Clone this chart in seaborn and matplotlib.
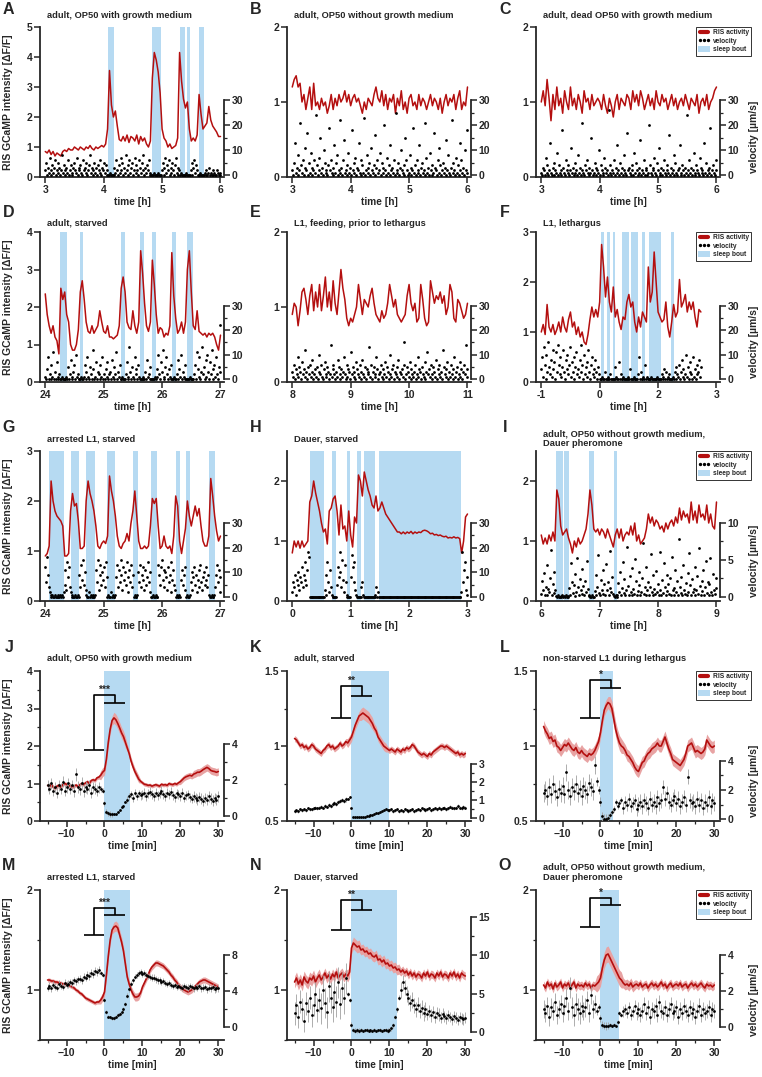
import numpy as np
import matplotlib
matplotlib.use("Agg")
import matplotlib.pyplot as plt
from matplotlib.lines import Line2D
from matplotlib.patches import Patch
from matplotlib.ticker import FixedLocator
import seaborn as sns

RED = "#b40f0f"
BAND = "#e8a3a3"
BLUE = "#b6daf2"

# ---------------- hour-scale panels (A-I) ----------------
# RIS activity and velocity, each sampled evenly over [t0, t1]
A_ris = [0.85, 0.8, 0.9, 0.75, 0.85, 0.7, 0.8, 0.75, 0.7, 0.85, 0.9, 0.85, 0.95, 0.9, 0.9, 1.0,
         0.95, 0.9, 1.0, 0.95, 0.9, 1.0, 0.95, 1.05, 0.95, 0.9, 1.0, 0.95, 1.0, 1.05, 1.0,
         1.1, 1.6, 3.55, 2.4, 2.0, 2.2, 1.7, 1.25, 1.2,
         1.35, 1.2, 1.4, 1.15, 1.35, 1.3, 1.2, 1.4, 1.1, 1.35, 1.2, 1.3, 1.1, 1.0,
         1.2, 3.3, 4.15, 3.9, 3.5, 2.8, 1.6, 1.3,
         1.2, 1.0, 1.1, 0.95, 1.0, 1.05, 1.3,
         4.15, 3.2, 2.6, 2.3, 2.5, 1.6, 1.2, 1.3, 1.2, 1.4, 2.75, 2.1, 1.6, 1.7, 1.8, 2.35,
         1.9, 1.7, 1.6, 1.5, 1.35, 1.35]
A_vel = [2, 5, 0, 3, 1, 7, 2, 0, 4, 1, 3, 6, 0, 2, 1, 5, 3, 0, 2, 8, 1, 4, 0, 2, 3, 1, 6, 0, 2, 4,
         1, 0, 3, 5, 2, 1, 7, 0, 3, 2, 4, 1, 0, 6, 2, 3, 1, 5, 0, 2, 4, 8, 1, 3, 0, 2, 5, 1, 3, 0,
         4, 2, 6, 1, 0, 3, 2, 5, 1, 4, 0, 2,
         0, 0, 1, 0, 0, 0, 0,
         3, 1, 6, 2, 0, 4, 1, 7, 2, 5, 0, 3, 1, 8, 2, 4, 0, 6, 1, 3, 5, 0, 2, 7, 1, 4, 2, 0, 6, 3,
         1, 5, 2, 8, 0, 3, 1, 4, 2, 6, 0, 1,
         0, 0, 0, 1, 0, 0, 0, 0, 1, 0, 0, 0,
         2, 5, 0, 3, 7, 1, 4, 2, 6, 0, 3, 1, 5, 2, 0, 4, 7, 1, 3, 0, 2,
         0, 1, 0, 0, 0, 0, 0, 1, 0, 0, 0, 0,
         2, 5, 0, 3, 6, 1, 4, 2, 0,
         0, 0, 1, 0, 0, 0, 0,
         1, 0, 2, 0, 1, 3, 0, 1, 0, 2, 0, 1, 0, 0, 2, 1, 0, 1, 0]
A_bouts = [(4.08, 4.17), (4.82, 4.99), (5.31, 5.40), (5.42, 5.48), (5.63, 5.72)]

B_ris = [1.2, 1.3, 1.35, 1.2, 1.25, 1.0, 1.1, 0.9, 1.05, 1.2, 0.9, 1.25, 0.95, 1.0, 0.9, 1.05, 0.95,
         1.0, 0.85, 0.95, 1.1, 0.9, 1.05, 0.95, 1.1, 1.0, 1.05, 1.15, 1.0, 1.1, 0.95, 1.05, 1.1, 1.0,
         1.05, 0.95, 0.85, 1.0, 0.9, 1.05, 1.0, 0.95, 1.1, 1.2, 1.05, 1.0, 1.15, 0.95, 1.1, 0.9, 1.05,
         1.0, 1.1, 0.85, 1.05, 0.95, 1.15, 0.9, 1.0, 0.85, 1.05, 1.1, 0.95, 1.0, 0.9, 1.1, 0.95, 1.05,
         1.0, 0.9, 1.0, 1.1, 0.95, 1.05, 1.0, 0.9, 1.05, 0.85, 1.0, 1.1, 0.95, 1.05, 1.0, 1.1, 0.9,
         1.05, 1.15, 0.9, 1.0, 0.95, 1.2]
B_vel = [2, 0, 5, 13, 1, 3, 8, 0, 2, 21, 4, 1, 6, 0, 3, 11, 2, 17, 0, 5,
         1, 9, 3, 0, 2, 6, 1, 24, 4, 0, 7, 2, 15, 1, 3, 0, 10, 5, 2, 1,
         0, 4, 19, 2, 6, 1, 0, 3, 12, 1, 5, 8, 0, 2, 1, 22, 3, 0, 6, 14,
         1, 2, 0, 4, 9, 1, 3, 0, 18, 2, 5, 1, 7, 0, 3, 2, 13, 1, 0, 6,
         4, 1, 23, 0, 2, 8, 3, 1, 5, 0, 11, 2, 1, 4, 16, 0, 3, 6, 1, 2,
         9, 0, 5, 1, 3, 20, 2, 0, 7, 1, 4, 12, 0, 2, 3, 1, 6, 0, 25, 2,
         1, 5, 0, 3, 10, 2, 1, 4, 0, 15, 6, 2, 0, 1, 8, 3, 0, 2, 19, 1,
         4, 0, 6, 2, 1, 12, 0, 3, 5, 1, 2, 0, 21, 7, 1, 3, 0, 9, 2, 4,
         0, 1, 17, 3, 2, 0, 6, 1, 11, 4, 0, 2, 5, 1, 3, 14, 0, 2, 8, 1,
         0, 3, 22, 1, 5, 2, 0, 7, 1, 4, 0, 13, 2, 6, 1, 3, 0, 10, 2, 18,
         1]

C_ris = [1.0, 1.15, 0.95, 1.3, 1.05, 0.75, 1.1, 0.9, 1.2, 0.95, 1.05, 0.85, 1.15, 1.0, 0.9, 1.2, 0.95,
         1.05, 0.9, 1.1, 1.0, 0.85, 1.15, 1.0, 1.05, 0.9, 1.1, 0.95, 1.0, 1.05, 1.0, 0.9, 1.1, 0.95,
         0.85, 1.05, 0.95, 0.8, 1.0, 1.1, 0.9, 1.05, 1.0, 0.95, 1.1, 1.05, 0.9, 1.15, 1.0, 1.1, 0.95,
         1.15, 1.05, 0.9, 1.0, 1.1, 0.95, 1.05, 0.9, 1.15, 1.0, 0.95, 1.1, 1.0, 1.05, 0.9, 1.0, 1.1,
         0.95, 1.05, 0.9, 1.0, 1.05, 0.95, 1.1, 1.0, 0.9, 1.05, 1.0, 0.95, 1.1, 0.85, 1.0, 1.05, 0.95,
         1.1, 0.9, 1.0, 1.05, 1.15, 1.2]
C_vel = [1, 0, 3, 2, 0, 7, 1, 4, 0, 2, 13, 1, 0, 3, 5, 0, 2, 1, 9, 0,
         4, 1, 2, 0, 18, 3, 1, 0, 6, 2, 1, 4, 0, 2, 11, 1, 3, 0, 1, 5,
         2, 0, 8, 1, 3, 0, 2, 21, 1, 0, 4, 2, 6, 1, 0, 3, 1, 15, 2, 0,
         1, 5, 3, 0, 2, 1, 10, 0, 4, 2, 1, 0, 7, 3, 1, 2, 0, 26, 1, 4,
         0, 2, 1, 6, 0, 3, 12, 1, 2, 0, 5, 1, 3, 0, 2, 8, 1, 0, 17, 2,
         3, 1, 0, 4, 2, 0, 9, 1, 5, 2, 0, 1, 3, 14, 0, 2, 1, 6, 0, 3,
         2, 0, 1, 20, 4, 1, 0, 3, 2, 7, 1, 0, 5, 2, 11, 0, 1, 3, 0, 2,
         6, 1, 0, 2, 4, 1, 16, 0, 3, 1, 2, 0, 8, 5, 1, 0, 2, 3, 12, 0,
         1, 4, 2, 0, 3, 1, 24, 0, 2, 6, 1, 3, 0, 2, 9, 1, 0, 4, 2, 1,
         0, 7, 3, 1, 2, 0, 13, 1, 5, 0, 2, 1, 3, 19, 0, 2, 4, 1, 0, 6,
         2]

D_ris = [2.35, 1.8, 1.5, 1.3, 1.5, 1.2, 1.1, 0.75, 2.5, 2.2, 2.4, 1.8, 1.6, 1.0, 0.85, 0.85, 1.0, 1.4,
         2.4, 2.7, 2.2, 1.6, 1.35, 1.3, 1.5, 1.3, 1.4, 1.5, 1.9, 1.6, 1.35, 1.3, 1.5, 1.2, 1.2, 1.15,
         1.2, 1.25, 1.5, 2.5, 2.8, 2.4, 1.6, 1.45, 1.4, 1.9, 1.5, 1.3, 1.6, 3.5, 2.9, 2.1, 1.5, 1.35,
         1.6, 3.25, 2.6, 1.8, 1.3, 1.45, 1.4, 1.2, 1.3, 1.25, 1.5, 3.45, 2.3, 1.7, 1.3, 1.4, 1.6, 1.3,
         1.6, 3.0, 3.5, 2.4, 1.5, 1.4, 1.9, 1.35, 1.3, 1.25, 1.3, 1.2, 1.3, 1.25, 1.3, 1.2, 1.0, 0.85, 1.25]
D_vel = [1, 0, 4, 9, 0, 2, 6, 0, 1, 11, 0, 3, 0, 7, 1, 0, 2,
         0, 0, 1, 0, 0, 0, 0, 1, 0,
         5, 0, 2, 8, 1, 0, 3, 6, 0, 10, 1, 2, 0,
         0, 0, 1, 0, 0,
         1, 6, 0, 3, 9, 1, 0, 5, 2, 0, 4, 12, 0, 1, 7, 0, 3, 2, 0, 6, 1, 9, 0, 2, 0, 4, 1, 7, 0, 2,
         3, 0, 8, 1, 0, 5, 2, 11, 0, 3, 1, 6, 0,
         0, 1, 0, 0, 0,
         2, 7, 0, 1, 13, 3, 0, 5, 1, 0, 9, 2, 4, 0, 6, 1,
         0, 0, 0, 1, 0, 0,
         3, 0, 8, 1, 2, 0, 5,
         0, 0, 0, 0, 1, 0,
         1, 4, 10, 2, 0, 7, 3, 12, 1, 0, 5, 9, 2, 0, 4, 1, 6, 0,
         0, 0, 1, 0, 0,
         2, 8, 0, 4, 1, 10, 0, 3, 1, 6, 0,
         0, 0, 0, 0, 1, 0, 0, 0, 0,
         2, 6, 0, 11, 4, 1, 9, 0, 3, 13, 2, 5, 0, 8, 1, 10, 3, 0, 7, 2, 12, 0, 4, 6, 1, 9, 2, 0, 5, 22, 3]
D_bouts = [(24.25, 24.38), (24.59, 24.65), (25.30, 25.37), (25.62, 25.69), (25.82, 25.89),
           (26.17, 26.23), (26.42, 26.53)]

E_ris = [0.9, 1.05, 1.0, 0.75, 0.95, 1.2, 1.25, 1.1, 0.9, 1.15, 1.3, 0.95, 1.2, 1.0, 1.3, 0.95, 1.15,
         1.4, 1.0, 1.2, 0.95, 1.35, 1.05, 0.9, 1.2, 1.5, 1.25, 1.1, 0.85, 0.75, 0.85, 0.8, 0.9, 1.0,
         1.3, 1.1, 0.9, 1.1, 1.05, 1.0, 1.15, 1.25, 1.05, 0.9, 0.85, 0.8, 0.95, 0.85, 0.9, 1.05, 1.3,
         1.15, 1.0, 1.1, 0.9, 0.85, 0.8, 0.85, 0.9, 1.15, 1.3, 1.05, 0.95, 1.05, 0.8, 0.85, 1.3, 1.1,
         0.85, 0.75, 0.8, 1.35, 1.2, 1.05, 1.15, 1.1, 1.2, 1.05, 1.15, 0.9, 1.0, 1.3, 1.2, 0.85, 0.8,
         1.1, 1.05, 0.95, 0.85, 0.9, 1.05]
E_vel = [3, 1, 6, 0, 4, 2, 9, 1, 5, 3, 0, 7, 2, 4, 1, 12, 3, 0, 5, 2,
         6, 1, 3, 8, 0, 2, 4, 1, 5, 0, 10, 3, 2, 6, 1, 0, 4, 7, 2, 1,
         5, 3, 0, 2, 14, 1, 4, 6, 2, 0, 3, 1, 8, 5, 2, 0, 4, 1, 3, 9,
         2, 0, 6, 1, 4, 3, 0, 11, 2, 5, 1, 3, 0, 7, 4, 2, 1, 6, 0, 3,
         8, 2, 1, 5, 0, 4, 3, 2, 13, 1, 6, 0, 3, 5, 2, 1, 9, 4, 0, 2,
         3, 6, 1, 0, 4, 2, 7, 1, 5, 3, 0, 2, 10, 1, 4, 6, 0, 3, 2, 5,
         1, 8, 0, 3, 2, 4, 1, 6, 15, 0, 2, 5, 3, 1, 7, 0, 4, 2, 1, 3,
         6, 0, 2, 9, 1, 4, 3, 0, 5, 2, 1, 7, 0, 3, 11, 2, 4, 1, 6, 0,
         2, 5, 3, 1, 8, 0, 4, 2, 6, 1, 3, 0, 12, 5, 2, 1, 4, 7, 0, 3,
         1, 6, 2, 0, 4, 9, 1, 3, 5, 0, 2, 7, 1, 4, 0, 3, 6, 2, 14, 1,
         4]

F_ris = [1.0, 1.15, 0.95, 1.55, 1.1, 1.0, 1.15, 0.95, 1.05, 1.2, 1.0, 1.3, 1.1, 1.0, 1.25, 1.4, 1.1,
         1.2, 0.95, 1.1, 0.9, 1.0, 0.8, 0.75, 0.95, 1.25, 1.5, 1.3, 1.45, 1.3, 1.6, 2.75, 2.3, 1.7,
         2.1, 1.6, 1.4, 1.9, 1.3, 1.45, 1.2, 1.05, 1.3, 1.25, 1.6, 1.75, 1.5, 1.6, 1.2, 1.0, 1.3, 1.1,
         1.4, 1.3, 1.2, 2.3, 1.6, 1.8, 2.6, 2.0, 1.4, 1.3, 1.2, 1.25, 1.6, 1.1, 0.9, 1.2, 1.55, 1.3,
         1.4, 2.05, 1.5, 1.6, 1.75, 1.4, 1.6, 1.45, 1.6, 1.3, 1.1, 1.45, 1.4]
F_vel = [4, 9, 1, 13, 6, 0, 10, 3, 15, 5, 2, 8, 1, 12, 4, 7, 0, 11, 3, 14, 6, 2, 9, 1, 5, 12, 3, 0,
         8, 4, 10, 2, 6, 13, 1, 7, 3, 0, 9, 5, 11, 2, 4, 1, 8, 14, 3, 6, 0, 10, 2, 5, 7, 1, 12, 3, 0,
         6, 9, 2, 4, 1, 8, 3, 0, 5, 2,
         0, 0, 0, 1, 0, 0, 3, 0, 0, 1, 0, 0, 2, 0, 0, 0, 0, 5, 0, 1, 0, 0, 7, 0, 2,
         0, 0, 1, 0, 0, 0, 0, 0, 1, 0, 4, 0, 0, 0, 1, 0, 0, 0, 0, 2, 9, 0, 3, 0, 0, 1, 0, 6, 0, 1, 0,
         0, 0, 0, 1, 0, 0, 0, 0, 0, 0, 1, 0, 0, 0, 0,
         2, 0, 1, 4, 0, 3, 0, 1, 0, 2, 0, 0, 0, 1, 0, 3, 5, 0, 2, 1, 6, 0, 3, 8, 1, 4, 0, 2, 10, 1,
         5, 0, 3, 7, 2, 0, 9, 1, 4, 0, 6, 2, 3, 8, 1, 5]
F_bouts = [(0.02, 0.07), (0.13, 0.17), (0.22, 0.26), (0.38, 0.50), (0.53, 0.65), (0.73, 0.78),
           (0.84, 1.05), (1.22, 1.27)]
F_xticklabels = ["-1", "0", "2", "3"]

G_ris = [0.9, 0.95, 1.1, 2.4, 2.0, 1.8, 1.7, 1.65, 1.6, 1.5, 0.9, 0.9, 0.95, 1.8, 2.15, 1.9, 1.95, 1.6,
         1.05, 1.05, 1.1, 2.0, 2.4, 2.15, 2.0, 1.8, 1.5, 1.1, 1.05, 1.15, 1.2, 1.15, 1.3, 2.5, 2.2,
         2.0, 1.7, 1.3, 1.1, 1.05, 1.15, 1.2, 1.35, 1.2, 1.55, 1.8, 2.2, 1.7, 1.2, 1.05, 1.05, 1.1,
         1.05, 1.1, 1.5, 2.05, 1.95, 2.05, 1.5, 1.05, 1.1, 1.3, 1.1, 1.05, 1.1, 0.95, 1.3, 2.1, 1.9,
         1.2, 0.95, 1.2, 1.45, 2.0, 1.7, 1.5, 1.7, 1.9, 1.7, 1.85, 1.5, 1.2, 1.1, 1.1, 1.3, 2.45, 2.1,
         1.7, 1.4, 1.2, 1.3]
G_vel = [12, 6, 16, 9, 4,
         2, 1, 0, 1, 0, 0, 1, 0, 0, 1, 0, 0, 1, 0, 1, 0, 2,
         5, 11, 3, 14, 8, 12, 4,
         2, 0, 1, 0, 0, 1, 0, 0, 1, 0,
         9, 4, 13, 7, 15, 5, 10, 3,
         1, 0, 0, 2, 0, 1, 0, 0, 1, 0, 1,
         11, 6, 15, 3, 9, 13, 5, 10, 7, 12, 4, 14, 8,
         0, 1, 0, 0, 2, 0, 1, 0, 0, 1,
         8, 13, 4, 11, 6, 15, 9, 3, 12, 7, 10, 5, 14, 2, 8, 11, 6, 13, 4, 9,
         0, 1, 0, 0, 1,
         10, 6, 13, 4, 9, 12, 7, 3, 11, 5, 8, 14, 6, 10, 2,
         0, 0, 1, 0, 0, 1, 0, 0,
         13, 9, 5, 12, 15, 7, 11, 4, 10, 8, 3, 12, 6, 9, 2, 14, 7, 11, 5, 3,
         0, 1, 0, 0, 1, 0,
         7, 11, 5, 9, 3, 12,
         0, 1, 0, 0, 1,
         6, 10, 3, 8, 12, 5, 9, 2, 7, 11, 4, 13, 6, 3, 8, 10, 5, 12, 7, 4, 9,
         1, 0, 0, 1, 0, 0, 1,
         4, 9, 13, 6, 11, 2, 8]
G_bouts = [(24.07, 24.32), (24.44, 24.57), (24.70, 24.86), (25.06, 25.20), (25.51, 25.58),
           (25.81, 25.92), (26.24, 26.31), (26.41, 26.47), (26.81, 26.90)]

H_ris = [0.8, 1.0, 0.9, 1.0, 0.88, 1.0, 0.9, 0.95, 1.0, 1.65, 1.75, 2.0, 1.8, 1.65, 1.5, 1.3, 1.15, 1.2,
         0.95, 1.5, 1.55, 1.7, 1.75, 1.5, 1.1, 1.6, 1.2, 1.25, 1.0, 1.5, 1.1, 0.9, 1.4, 1.3, 2.1, 2.0,
         1.75, 2.15, 2.0, 1.85, 1.75, 1.6, 1.55, 1.75, 1.5, 1.55, 1.65, 1.55, 1.45, 1.4, 1.35, 1.3,
         1.25, 1.2, 1.15, 1.15, 1.12, 1.15, 1.12, 1.15, 1.13, 1.16, 1.12, 1.15, 1.13, 1.15, 1.14,
         1.17, 1.18, 1.17, 1.15, 1.12, 1.13, 1.1, 1.11, 1.09, 1.1, 1.08, 1.07, 1.08, 1.05, 1.06, 1.05,
         1.07, 1.05, 1.06, 1.04, 0.8, 1.0, 1.4, 1.45]
H_vel = [2, 6, 4, 9, 1, 7, 5, 10, 3, 8, 6, 12, 4, 9, 7, 14, 5, 11, 18, 16,
         0, 0, 0, 0, 0, 0, 0, 0, 0, 0, 0, 0, 0, 0, 0, 0, 0,
         3, 9, 1, 14, 6, 2, 11, 4, 1,
         0, 0, 0, 0, 0,
         5, 12, 8, 18, 10, 4, 15, 7, 2, 13, 6, 1,
         0, 0, 0, 0,
         8, 17, 12, 6, 14, 3, 1,
         0, 0, 0, 0, 0,
         4, 6, 1,
         0, 0, 0, 0, 0, 0, 0, 0, 0, 0, 0, 0, 0,
         1, 4, 0, 2, 0,
         0, 0, 0, 0, 0, 0, 0, 0, 0, 0, 0, 0, 0, 0, 0, 0, 0, 0, 0, 0, 0, 0, 0, 0, 0, 0, 0, 0, 0, 0, 0,
         0, 0, 0, 0, 0, 0, 0, 0, 0, 0, 0, 0, 0, 0, 0, 0, 0, 0, 0, 0, 0, 0, 0, 0, 0, 0, 0, 0, 0, 0, 0,
         0, 0, 0, 0, 0, 0, 0, 0, 0, 0, 0, 0, 0, 0, 0, 0, 0, 0, 0, 0, 0, 0, 0, 0, 0, 0, 0, 0, 0, 0, 0,
         2, 18, 6, 11, 14, 3, 8, 1]
H_bouts = [(0.30, 0.55), (0.68, 0.75), (0.94, 0.99), (1.11, 1.18), (1.23, 1.42), (1.49, 2.89)]

I_ris = [1.1, 0.95, 1.05, 0.95, 1.1, 1.0, 1.15, 1.0, 1.85, 1.7, 1.25, 1.1, 1.15, 1.2, 1.05, 0.95, 0.8,
         1.0, 0.9, 1.05, 0.95, 1.0, 1.1, 1.2, 1.45, 1.85, 1.6, 1.2, 1.15, 1.2, 1.1, 1.2, 1.15, 1.05,
         1.2, 1.1, 1.0, 0.9, 1.1, 1.2, 1.05, 1.2, 1.0, 1.1, 1.15, 1.1, 1.25, 1.1, 1.3, 1.0, 1.1, 0.95,
         1.0, 1.05, 1.2, 1.45, 1.3, 1.4, 1.25, 1.35, 1.3, 1.2, 1.25, 1.15, 1.3, 1.2, 1.3, 1.35, 1.25,
         1.4, 1.3, 1.55, 1.35, 1.5, 1.4, 1.45, 1.3, 1.65, 1.35, 1.5, 1.3, 1.6, 1.4, 1.45, 1.35, 1.6,
         1.3, 1.45, 1.25, 1.2, 1.65]
I_vel = [0.4, 2.1, 0.9, 3.2, 0.3, 1.4, 0.2, 4.3, 1.1, 0.6, 2.6, 6.4, 0.2, 1.8, 0.5, 3.4, 1.0,
         0.1, 0, 0.2, 0, 0, 0.1, 0, 0.3, 0, 0.1, 0, 0.2, 0, 0, 0.1,
         1.2, 0.3, 4.6, 2.0, 0.5, 1.6, 0.1, 3.1, 0.7, 5.3, 1.4, 0.2, 2.4, 0.9, 0.4, 3.8, 1.5, 0.3,
         2.2, 0.6, 4.9, 1.1, 0.2,
         0.1, 0, 0, 0.2, 0, 0,
         0.8, 2.9, 0.3, 1.3, 5.6, 0.5, 0.2, 2.3, 1.0, 3.6, 0.4, 1.7, 0.2, 4.4, 0.9, 2.0, 0.3, 6.2,
         1.2, 0.6, 2.7, 0.4,
         0.1, 0, 0.2, 0,
         0.3, 1.9, 0.6, 3.3, 0.2, 1.2, 4.7, 0.5, 2.4, 0.2, 0.9, 6.8, 1.5, 0.3, 2.8, 0.6, 0.2, 3.9,
         1.1, 0.4, 5.1, 2.2, 0.3, 0.8, 1.6, 3.4, 0.2, 0.6, 2.5, 7.3, 0.4, 1.3, 0.2, 4.1, 0.9, 2.0,
         0.3, 1.4, 5.8, 0.6, 0.2, 2.9, 1.1, 0.4, 3.5, 0.7, 1.8, 0.2, 6.1, 1.0, 0.3, 2.3, 0.5, 4.6,
         1.4, 0.2, 0.8, 3.0, 1.7, 0.4, 2.6, 0.2, 5.4, 0.9, 1.2, 0.3, 3.7, 0.6, 2.1, 0.2, 7.8, 1.3,
         0.5, 2.7, 0.3, 4.3, 1.0, 0.4, 1.9, 0.2, 3.2, 0.7, 5.9, 1.6, 0.3, 2.4, 0.6, 1.1, 4.0, 0.2,
         0.9, 2.8, 0.4, 6.6, 1.5, 0.3, 2.2, 0.8, 3.6, 0.2, 1.3, 4.9, 0.5, 2.0, 0.3, 1.7, 5.2, 0.6,
         0.2, 3.1, 1.0, 0.4, 2.5, 1.2]
I_bouts = [(6.26, 6.38), (6.39, 6.47), (6.82, 6.90), (7.24, 7.29)]

# ---------------- sleep-bout-aligned averages (J-O), -15 .. 30 min every 0.5 min ----------------
J_ris = [0.95, 0.92, 0.97, 0.9, 0.88, 0.93, 0.95, 0.9, 0.97, 1.0, 0.98, 0.93, 0.95, 0.9, 0.93, 0.96,
         0.92, 0.97, 1.0, 0.97, 1.02, 1.05, 1.0, 1.08, 1.1, 1.08, 1.15, 1.17, 1.22, 1.3,
         1.35, 1.65, 2.1, 2.45, 2.68, 2.75, 2.7, 2.6, 2.48, 2.35, 2.25, 2.1, 1.95, 1.8, 1.6, 1.45,
         1.32, 1.22, 1.12, 1.06,
         1.02, 0.98, 0.97, 0.95, 0.96, 0.93, 0.95, 0.97, 0.95, 0.93, 0.98, 0.96, 0.97, 0.95, 1.0,
         0.98, 0.97, 1.0, 0.98, 1.02, 1.05, 1.1, 1.15, 1.18, 1.2, 1.22, 1.2, 1.25, 1.27, 1.3, 1.3,
         1.33, 1.37, 1.4, 1.43, 1.4, 1.35, 1.33, 1.32, 1.3, 1.32]
J_ris_sem = [0.06, 0.05, 0.05, 0.05, 0.12, 0.15, 0.1, 0.05, 0.05, 0.05, 0.08, 0.1, 0.1]
J_vel = [1.7, 1.5, 1.8, 1.4, 1.6, 1.3, 1.7, 1.5, 1.9, 1.4, 1.6, 1.8, 1.5, 1.7, 1.4, 2.3, 1.6, 1.5,
         1.8, 1.4, 1.6, 1.5, 1.7, 1.3, 1.6, 1.5, 1.4, 1.6, 1.5, 1.4,
         0.7, 0.25, 0.15, 0.12, 0.1, 0.1, 0.12, 0.2, 0.35, 0.5,
         0.55, 0.8, 0.9, 1.1, 1.2, 1.0, 1.3, 1.1, 1.25, 1.15,
         1.2, 1.3, 1.1, 1.25, 1.35, 1.2, 1.1, 1.3, 1.15, 1.25, 1.4, 1.2, 1.1, 1.3, 1.2, 1.35, 1.15,
         1.05, 1.25, 1.2, 1.1, 1.3, 1.0, 1.15, 1.2, 1.05, 0.95, 1.1, 1.0, 0.9, 1.05, 0.95, 0.85, 1.0,
         0.9, 1.1, 0.95, 0.85, 1.0, 0.9, 1.1]
J_vel_err = [0.3, 0.3, 0.35, 0.3, 0.15, 0.05, 0.2, 0.25, 0.25, 0.25, 0.25, 0.3, 0.3]

K_ris = [1.05, 1.04, 1.02, 1.0, 1.01, 0.99, 1.0, 0.98, 0.99, 1.01, 1.0, 0.98, 0.97, 0.96, 0.95, 0.97,
         0.98, 1.0, 1.01, 0.99, 1.0, 0.98, 0.99, 1.0, 1.02, 1.0, 1.01, 1.03, 1.02, 1.04,
         1.06, 1.1, 1.14, 1.17, 1.2, 1.21, 1.22, 1.21, 1.2, 1.19, 1.17, 1.15, 1.12, 1.1, 1.06, 1.04,
         1.02, 1.0, 0.99, 0.98,
         0.97, 0.98, 0.97, 0.96, 0.98, 0.97, 0.96, 0.98, 0.97, 0.99, 0.98, 0.99, 1.01, 1.0, 0.98,
         0.96, 0.95, 0.94, 0.95, 0.94, 0.93, 0.95, 0.94, 0.96, 0.97, 0.98, 0.99, 1.0, 1.0, 0.99, 1.0,
         0.99, 0.98, 0.97, 0.96, 0.95, 0.96, 0.94, 0.95, 0.94, 0.95]
K_ris_sem = [0.02, 0.02, 0.02, 0.02, 0.03, 0.04, 0.03, 0.02, 0.02, 0.02, 0.02, 0.02, 0.02]
K_vel = [0.4, 0.45, 0.4, 0.5, 0.45, 0.5, 0.45, 0.55, 0.5, 0.5, 0.55, 0.6, 0.55, 0.6, 0.65, 0.6, 0.7,
         0.65, 0.75, 0.7, 0.8, 0.85, 0.8, 0.9, 0.95, 1.0, 0.95, 1.05, 1.1, 1.2,
         0.6, 0.1, 0.05, 0.08, 0.05, 0.06, 0.1, 0.08, 0.12, 0.15, 0.2, 0.2, 0.25, 0.3, 0.3, 0.35, 0.4,
         0.45, 0.5, 0.45,
         0.45, 0.5, 0.4, 0.45, 0.5, 0.4, 0.45, 0.4, 0.5, 0.45, 0.4, 0.45, 0.5, 0.4, 0.45, 0.5, 0.45,
         0.55, 0.5, 0.45, 0.5, 0.55, 0.45, 0.5, 0.55, 0.5, 0.6, 0.5, 0.55, 0.6, 0.5, 0.55, 0.65, 0.6,
         0.55, 0.6, 0.7, 0.6, 0.55, 0.65, 0.6]
K_vel_err = [0.08, 0.08, 0.1, 0.12, 0.05, 0.03, 0.05, 0.08, 0.08, 0.08, 0.08, 0.1, 0.1]

L_ris = [1.13, 1.1, 1.08, 1.05, 1.06, 1.03, 1.04, 1.0, 0.99, 0.97, 0.99, 1.01, 1.0, 1.02, 1.0, 0.98,
         0.97, 0.99, 0.96, 0.95, 0.97, 0.95, 0.94, 0.93, 0.95, 0.94, 0.95, 0.97, 1.0, 1.03,
         1.09, 1.17, 1.24, 1.27, 1.29, 1.28, 1.25, 1.18, 1.11, 1.06, 1.02, 1.0, 0.99, 0.97, 0.94,
         0.93, 0.91, 0.89, 0.86, 0.84,
         0.83, 0.86, 0.89, 0.9, 0.93, 0.95, 0.96, 0.98, 0.99, 1.0, 1.02, 1.0, 1.0, 1.03, 1.06, 1.02,
         0.98, 0.95, 0.91, 0.9, 0.89, 0.88, 0.87, 0.89, 0.91, 0.95, 1.0, 1.01, 1.02, 0.99, 0.96,
         0.97, 0.96, 0.95, 0.96, 0.98, 1.04, 1.02, 1.0, 0.99, 1.0]
L_ris_sem = [0.04, 0.04, 0.04, 0.04, 0.04, 0.05, 0.04, 0.04, 0.04, 0.04, 0.04, 0.04, 0.04]
L_vel = [1.8, 2.0, 1.6, 2.2, 1.7, 2.4, 1.9, 1.5, 2.1, 1.8, 2.3, 1.7, 3.2, 2.0, 1.6, 2.2, 1.9, 2.4,
         1.8, 2.1, 1.6, 2.3, 2.0, 1.7, 2.5, 2.2, 1.9, 3.7, 2.6, 2.0,
         1.2, 0.2, 0.05, 0.05, 0.1, 0.3, 0.5, 0.7, 1.2, 0.9, 1.1, 1.3, 0.8, 1.2, 1.0, 1.4, 0.9, 1.1,
         1.3, 0.7,
         1.0, 1.2, 0.9, 1.3, 1.1, 0.8, 1.4, 1.0, 1.2, 0.9, 1.5, 1.1, 1.3, 2.2, 1.4, 1.8, 1.2, 1.0,
         1.35, 1.6, 1.1, 1.4, 0.9, 1.2, 1.5, 1.0, 2.9, 1.3, 1.1, 1.2, 0.9, 1.4, 1.0, 1.3, 0.8, 1.2,
         1.0, 1.5, 0.9, 1.3, 1.1]
L_vel_err = [0.6, 0.6, 0.6, 0.6, 0.3, 0.2, 0.4, 0.5, 0.5, 0.5, 0.5, 0.5, 0.5]

M_ris = [1.1, 1.1, 1.09, 1.09, 1.08, 1.08, 1.07, 1.07, 1.06, 1.06, 1.06, 1.05, 1.04, 1.03, 1.02, 1.0,
         0.99, 0.97, 0.96, 0.94, 0.92, 0.91, 0.9, 0.89, 0.88, 0.87, 0.88, 0.88, 0.9, 0.93,
         0.98, 1.15, 1.34, 1.5, 1.6, 1.63, 1.64, 1.62, 1.55, 1.48, 1.39, 1.26, 1.13, 1.06, 1.0, 0.96,
         0.93, 0.93, 0.94, 0.97,
         1.03, 1.07, 1.11, 1.15, 1.2, 1.23, 1.25, 1.27, 1.27, 1.26, 1.25, 1.24, 1.22, 1.2, 1.18, 1.15,
         1.13, 1.1, 1.08, 1.05, 1.03, 1.01, 1.0, 0.99, 0.98, 0.99, 1.0, 1.02, 1.04, 1.06, 1.08, 1.09,
         1.1, 1.1, 1.09, 1.08, 1.07, 1.06, 1.05, 1.04, 1.03]
M_ris_sem = [0.02, 0.02, 0.02, 0.02, 0.04, 0.05, 0.04, 0.03, 0.03, 0.03, 0.03, 0.03, 0.03]
M_vel = [4.4, 4.6, 4.3, 4.7, 4.5, 4.4, 4.8, 4.6, 4.5, 4.9, 4.7, 4.8, 5.0, 4.9, 5.2, 5.1, 5.3, 5.4,
         5.2, 5.6, 5.5, 5.8, 5.7, 6.0, 5.9, 6.2, 6.1, 6.3, 6.0, 5.8,
         3.0, 1.7, 1.2, 1.1, 1.0, 1.05, 1.2, 1.35, 1.5, 1.7, 2.0, 2.6, 3.5, 4.2, 4.8, 5.2, 5.6, 5.8,
         6.0, 6.1,
         5.9, 6.0, 5.8, 5.7, 5.6, 5.5, 5.5, 5.3, 5.2, 5.2, 5.0, 5.1, 4.9, 4.8, 4.9, 4.7, 4.6, 4.7,
         4.5, 4.6, 4.5, 4.4, 4.6, 4.5, 4.4, 4.6, 4.5, 4.3, 4.5, 4.4, 4.6, 4.3, 4.4, 4.5, 4.2, 4.4,
         4.3, 4.5, 4.2, 4.3, 4.3]
M_vel_err = [0.4, 0.4, 0.4, 0.45, 0.2, 0.2, 0.3, 0.35, 0.35, 0.35, 0.35, 0.35, 0.35]

N_ris = [1.08, 1.12, 1.06, 1.1, 1.05, 1.13, 1.09, 1.07, 1.12, 1.1, 1.14, 1.08, 1.12, 1.15, 1.1, 1.13,
         1.17, 1.12, 1.15, 1.11, 1.16, 1.13, 1.18, 1.12, 1.15, 1.17, 1.13, 1.16, 1.14, 1.18,
         1.42, 1.47, 1.45, 1.43, 1.44, 1.4, 1.41, 1.38, 1.39, 1.36, 1.37, 1.34, 1.33, 1.35, 1.3, 1.31,
         1.28, 1.3, 1.26, 1.27,
         1.24, 1.25, 1.22, 1.23, 1.2, 1.21, 1.18, 1.2, 1.17, 1.19, 1.15, 1.18, 1.14, 1.17, 1.13, 1.16,
         1.15, 1.12, 1.17, 1.14, 1.18, 1.13, 1.16, 1.15, 1.12, 1.17, 1.14, 1.18, 1.13, 1.16, 1.15,
         1.12, 1.17, 1.14, 1.18, 1.13, 1.16, 1.12, 1.17, 1.15, 1.14]
N_ris_sem = [0.06, 0.06, 0.05, 0.05, 0.06, 0.05, 0.05, 0.05, 0.04, 0.04, 0.04, 0.04, 0.04]
N_vel = [2.5, 3.5, 2.0, 4.0, 3.0, 1.5, 3.8, 2.8, 4.5, 2.2, 3.6, 5.0, 2.9, 4.2, 3.1, 5.5, 3.8, 2.6,
         6.0, 4.5, 3.3, 5.2, 4.0, 6.5, 3.7, 5.8, 4.4, 7.0, 5.0, 4.2,
         1.0, 0.3, 0.2, 0.25, 0.2, 0.3, 0.2, 0.25, 0.3, 0.2, 0.25, 0.2, 0.3, 0.2, 0.25, 0.3, 0.2,
         0.25, 0.3, 0.2,
         0.3, 0.5, 0.9, 2.0, 3.0, 4.5, 5.5, 6.5, 5.8, 5.0, 4.5, 3.8, 4.2, 3.5, 3.0, 3.6, 2.8, 3.2,
         2.5, 3.0, 2.4, 2.8, 2.2, 2.6, 2.0, 2.5, 2.3, 1.9, 2.4, 2.1, 1.8, 2.2, 2.0, 1.7, 2.1, 1.9,
         1.6, 2.0, 1.8, 1.7, 1.9]
N_vel_err = [1.5, 1.5, 2.0, 2.0, 0.3, 0.2, 0.2, 0.3, 1.0, 1.0, 0.8, 0.7, 0.7]

O_ris = [1.05, 1.02, 1.08, 1.04, 1.06, 1.01, 1.07, 1.03, 1.05, 1.08, 1.02, 1.06, 1.04, 1.07, 1.03,
         1.05, 1.08, 1.02, 1.06, 1.04, 1.05, 1.03, 1.07, 1.04, 1.06, 1.02, 1.05, 1.04, 1.06, 1.08,
         1.12, 1.22, 1.3, 1.35, 1.36, 1.32, 1.28, 1.24, 1.2, 1.16, 1.12, 1.1, 1.07, 1.05, 1.06, 1.04,
         1.07, 1.03, 1.05, 1.06,
         1.04, 1.07, 1.03, 1.05, 1.06, 1.02, 1.05, 1.07, 1.04, 1.06, 1.03, 1.05, 1.08, 1.04, 1.06,
         1.02, 1.05, 1.07, 1.03, 1.05, 1.06, 1.04, 1.07, 1.03, 1.05, 1.06, 1.02, 1.05, 1.07, 1.04,
         1.06, 1.03, 1.05, 1.07, 1.04, 1.02, 1.06, 1.04, 1.05, 1.03, 1.05]
O_ris_sem = [0.04, 0.04, 0.04, 0.04, 0.08, 0.08, 0.05, 0.04, 0.04, 0.04, 0.04, 0.04, 0.04]
O_vel = [1.0, 0.8, 1.2, 0.6, 1.1, 0.9, 1.4, 0.7, 1.0, 1.3, 0.8, 1.2, 1.6, 0.9, 2.2, 1.1, 0.7, 1.3,
         1.0, 0.8, 1.2, 0.9, 1.1, 1.5, 0.8, 1.8, 1.0, 1.3, 0.9, 1.1,
         0.5, 0.15, 0.1, 0.08, 0.1, 0.12, 0.1, 0.15, 0.1, 0.3, 0.8, 0.7, 0.9, 1.0, 0.8, 1.1, 0.7, 0.9,
         1.2, 0.8,
         1.0, 0.7, 0.9, 1.3, 0.8, 1.1, 0.6, 1.0, 0.9, 1.2, 0.7, 1.4, 0.9, 0.8, 1.1, 0.7, 1.0, 1.3,
         0.8, 0.9, 1.1, 0.6, 1.0, 0.8, 1.2, 0.9, 0.7, 1.1, 0.8, 1.0, 0.6, 0.9, 1.2, 0.7, 1.0, 0.8,
         0.9, 1.1, 0.7, 1.0, 0.9]
O_vel_err = [0.5, 0.5, 0.6, 0.5, 0.2, 0.1, 0.3, 0.4, 0.4, 0.4, 0.4, 0.4, 0.4]

# ---------------- panel tables ----------------
hour_panels = [
    dict(key="A", title="adult, OP50 with growth medium", t=(3, 6), ris=A_ris, vel=A_vel, bouts=A_bouts,
         ylim=(0, 5), yticks=[0, 1, 2, 3, 4, 5], vlim=(-0.6, 59), vticks=[0, 10, 20, 30], xticks=[3, 4, 5, 6]),
    dict(key="B", title="adult, OP50 without growth medium", t=(3, 6), ris=B_ris, vel=B_vel, bouts=[],
         ylim=(0, 2), yticks=[0, 1, 2], vlim=(-0.6, 59), vticks=[0, 10, 20, 30], xticks=[3, 4, 5, 6]),
    dict(key="C", title="adult, dead OP50 with growth medium", t=(3, 6), ris=C_ris, vel=C_vel, bouts=[],
         ylim=(0, 2), yticks=[0, 1, 2], vlim=(-0.6, 59), vticks=[0, 10, 20, 30], xticks=[3, 4, 5, 6]),
    dict(key="D", title="adult, starved", t=(24, 27), ris=D_ris, vel=D_vel, bouts=D_bouts,
         ylim=(0, 4), yticks=[0, 1, 2, 3, 4], vlim=(-1.1, 60), vticks=[0, 10, 20, 30], xticks=[24, 25, 26, 27]),
    dict(key="E", title="L1, feeding, prior to lethargus", t=(8, 11), ris=E_ris, vel=E_vel, bouts=[],
         ylim=(0, 2), yticks=[0, 1, 2], vlim=(-1.1, 60), vticks=[0, 10, 20, 30], xticks=[8, 9, 10, 11]),
    dict(key="F", title="L1, lethargus", t=(-1, 1.733), ris=F_ris, vel=F_vel, bouts=F_bouts,
         ylim=(0, 3), yticks=[0, 1, 2, 3], vlim=(-1.1, 60), vticks=[0, 10, 20, 30], xticks=[-1, 0, 1, 2],
         xticklabels=F_xticklabels),
    dict(key="G", title="arrested L1, starved", t=(24, 27), ris=G_ris, vel=G_vel, bouts=G_bouts,
         ylim=(0, 3), yticks=[0, 1, 2, 3], vlim=(-1.6, 59), vticks=[0, 10, 20, 30], xticks=[24, 25, 26, 27]),
    dict(key="H", title="Dauer, starved", t=(0, 3), ris=H_ris, vel=H_vel, bouts=H_bouts,
         ylim=(0, 2.5), yticks=[0, 1, 2], vlim=(-1.6, 59), vticks=[0, 10, 20, 30], xticks=[0, 1, 2, 3]),
    dict(key="I", title="adult, OP50 without growth medium,\nDauer pheromone", t=(6, 9), ris=I_ris,
         vel=I_vel, bouts=I_bouts, ylim=(0, 2.5), yticks=[0, 1, 2], vlim=(-0.55, 19.7), vticks=[0, 5, 10],
         xticks=[6, 7, 8, 9]),
]

minute_panels = [
    dict(key="J", title="adult, OP50 with growth medium", ris=J_ris, sem=J_ris_sem, vel=J_vel, verr=J_vel_err,
         bout=(0, 6.7), ylim=(0, 4), yticks=[0, 1, 2, 3, 4], vlim=(-0.27, 8.0), vticks=[0, 2, 4],
         stars="***", brk=(1.9, 3.36, 3.16)),
    dict(key="K", title="adult, starved", ris=K_ris, sem=K_ris_sem, vel=K_vel, verr=K_vel_err,
         bout=(0, 10), ylim=(0.5, 1.5), yticks=[0.5, 1, 1.5], vlim=(-0.15, 8.2), vticks=[0, 1, 2, 3],
         stars="**", brk=(1.19, 1.40, 1.336)),
    dict(key="L", title="non-starved L1 during lethargus", ris=L_ris, sem=L_ris_sem, vel=L_vel, verr=L_vel_err,
         bout=(0, 3.3), ylim=(0.5, 1.5), yticks=[0.5, 1, 1.5], vlim=(-0.11, 10.1), vticks=[0, 2, 4],
         stars="*", brk=(1.19, 1.44, 1.39)),
    dict(key="M", title="arrested L1, starved", ris=M_ris, sem=M_ris_sem, vel=M_vel, verr=M_vel_err,
         bout=(0, 6.8), ylim=(0.5, 2), yticks=[1, 2], vlim=(-1.4, 15.2), vticks=[0, 4, 8],
         stars="***", brk=(1.55, 1.82, 1.75)),
    dict(key="N", title="Dauer, starved", ris=N_ris, sem=N_ris_sem, vel=N_vel, verr=N_vel_err,
         bout=(0, 12), ylim=(0.5, 2), yticks=[1, 2], vlim=(-1.0, 18.5), vticks=[0, 5, 10, 15],
         stars="**", brk=(1.6, 1.9, 1.8)),
    dict(key="O", title="adult, OP50 without growth medium,\nDauer pheromone", ris=O_ris, sem=O_ris_sem,
         vel=O_vel, verr=O_vel_err, bout=(0, 5), ylim=(0.5, 2), yticks=[1, 2], vlim=(-0.7, 7.6),
         vticks=[0, 2, 4], stars="*", brk=(1.63, 1.92, 1.85)),
]

# ---------------- style ----------------
sns.set_style("ticks")
plt.rcParams["font.family"] = ["Liberation Sans", "DejaVu Sans"]
plt.rcParams["font.weight"] = "bold"
plt.rcParams["axes.labelweight"] = "bold"
plt.rcParams["axes.linewidth"] = 1.3
plt.rcParams["xtick.major.width"] = 1.1
plt.rcParams["ytick.major.width"] = 1.1
plt.rcParams["xtick.minor.width"] = 0.9
plt.rcParams["ytick.minor.width"] = 0.9

W, H = 762, 1077
fig = plt.figure(figsize=(W / 100, H / 100), dpi=100)
col_left = [40, 287, 536]
row_top = [27, 232, 451, 671, 890]
AXW, AXH = 184, 150
title_y = [1.08, 1.06, 1.08, 1.085, 1.085]
letter_y = [1.12, 1.13, 1.16, 1.16, 1.16]


def make_axes(r, c):
    ax = fig.add_axes([col_left[c] / W, 1 - (row_top[r] + AXH) / H, AXW / W, AXH / H])
    ax2 = ax.twinx()
    return ax, ax2


def dress(ax, ax2, p, r, c, xlabel):
    for s in ["top", "right"]:
        ax.spines[s].set_visible(False)
    for s in ["top", "left", "bottom"]:
        ax2.spines[s].set_visible(False)
    ax2.spines["right"].set_bounds(0, p["vticks"][-1])
    ax.set_ylim(*p["ylim"])
    ax.set_yticks(p["yticks"])
    ax.set_yticklabels([f"{v:g}" for v in p["yticks"]])
    ax2.set_ylim(*p["vlim"])
    ax2.set_yticks(p["vticks"])
    step = p["vticks"][1] - p["vticks"][0]
    ax2.yaxis.set_minor_locator(FixedLocator(np.arange(step / 2, p["vticks"][-1], step)))
    ax.tick_params(axis="both", which="major", labelsize=7.5, length=4, pad=1.5)
    ax.tick_params(axis="both", which="minor", length=2.5)
    ax2.tick_params(axis="y", which="major", labelsize=7.5, length=4, pad=1.5)
    ax2.tick_params(axis="y", which="minor", length=2.5)
    ax.set_xlabel(xlabel, fontsize=7.3, labelpad=1.5)
    ax.set_ylabel("")
    ax2.set_ylabel("")
    if c == 0:
        ax.set_ylabel("RIS GCaMP intensity [\u0394F/F]", fontsize=7.5)
        ax.yaxis.set_label_coords(-0.145, 0.5)
    if c == 2:
        ax2.set_ylabel("velocity [\u00b5m/s]", fontsize=7.5)
        ax2.yaxis.set_label_coords(1.155, 0.27)
    ty = title_y[r] + (0.03 if "\n" in p["title"] and r == 4 else 0)
    ax.text(0.04, ty, p["title"], transform=ax.transAxes, ha="left", va="center",
            fontsize=6.7, linespacing=1.1)
    ax.text(-0.17, letter_y[r], p["key"], transform=ax.transAxes, ha="center", va="center",
            fontsize=11.5)
    if c == 2:
        handles = [Line2D([], [], color=RED, lw=3),
                   Line2D([], [], color="k", ls="none", marker="o", ms=1.4),
                   Patch(facecolor=BLUE, edgecolor="none")]
        leg = ax2.legend(handles, ["RIS activity", "velocity", "sleep bout"], loc="upper right",
                         bbox_to_anchor=(1.17, 1.0), fontsize=4.8, frameon=True, fancybox=False,
                         numpoints=3, handlelength=1.8, handleheight=0.9, borderpad=0.35,
                         labelspacing=0.2, handletextpad=0.4, borderaxespad=0)
        leg.get_frame().set_edgecolor("black")
        leg.get_frame().set_linewidth(0.7)


# ---------------- draw hour-scale panels ----------------
for i, p in enumerate(hour_panels):
    r, c = divmod(i, 3)
    ax, ax2 = make_axes(r, c)
    for b0, b1 in p["bouts"]:
        ax.axvspan(b0, b1, color=BLUE, lw=0, zorder=0)
    t_ris = np.linspace(p["t"][0], p["t"][1], len(p["ris"]))
    sns.lineplot(x=t_ris, y=p["ris"], ax=ax, color=RED, lw=1.1)
    t_vel = np.linspace(p["t"][0], p["t"][1], len(p["vel"]))
    sns.scatterplot(x=t_vel, y=p["vel"], ax=ax2, color="black", s=4, linewidth=0)
    x0, x1 = p["xticks"][0], p["xticks"][-1]
    ax.set_xlim(x0 - 0.09, x1 + 0.06)
    ax.set_xticks(p["xticks"])
    ax.set_xticklabels(p.get("xticklabels", [str(v) for v in p["xticks"]]))
    dress(ax, ax2, p, r, c, "time [h]")

# ---------------- draw bout-aligned panels ----------------
for i, p in enumerate(minute_panels):
    r, c = divmod(i, 3)
    r += 3
    ax, ax2 = make_axes(r, c)
    ax.axvspan(p["bout"][0], p["bout"][1], color=BLUE, lw=0, zorder=0)
    ris = np.array(p["ris"])
    x = np.linspace(-15, 30, len(ris))
    seg = np.minimum(np.arange(len(ris)) * len(p["sem"]) // len(ris), len(p["sem"]) - 1)
    sem = np.array(p["sem"])[seg]
    ax.fill_between(x, ris - sem, ris + sem, color=BAND, lw=0, zorder=1)
    sns.lineplot(x=x, y=ris, ax=ax, color=RED, lw=1.2, zorder=2)
    vel = np.array(p["vel"])
    xv = np.linspace(-15, 30, len(vel))
    seg = np.minimum(np.arange(len(vel)) * len(p["verr"]) // len(vel), len(p["verr"]) - 1)
    verr = np.array(p["verr"])[seg]
    ax2.errorbar(xv, vel, yerr=verr, fmt="none", ecolor="#a0a0a0", elinewidth=0.6, capsize=0, zorder=1)
    sns.scatterplot(x=xv, y=vel, ax=ax2, color="black", s=4, linewidth=0, zorder=2)
    # significance bracket: mean before vs during the bout
    lo, hi, during = p["brk"]
    kw = dict(color="black", lw=1.2, clip_on=False, solid_capstyle="butt")
    ax.plot([-5.5, 0], [lo, lo], **kw)
    ax.plot([-2.75, -2.75, 2.75, 2.75], [lo, hi, hi, during], **kw)
    ax.plot([0, 5.5], [during, during], **kw)
    ax.text(0, hi, p["stars"], ha="center", va="bottom", fontsize=7.5)
    ax.set_xlim(-17, 31.5)
    ax.set_xticks([-10, 0, 10, 20, 30])
    ax.xaxis.set_minor_locator(FixedLocator([-15, -5, 5, 15, 25]))
    ystep = p["yticks"][1] - p["yticks"][0]
    ax.yaxis.set_minor_locator(FixedLocator(np.arange(p["ylim"][0], p["ylim"][1] + 1e-9, ystep / 2)))
    dress(ax, ax2, p, r, c, "time [min]")

fig.savefig("out.png", dpi=100)
